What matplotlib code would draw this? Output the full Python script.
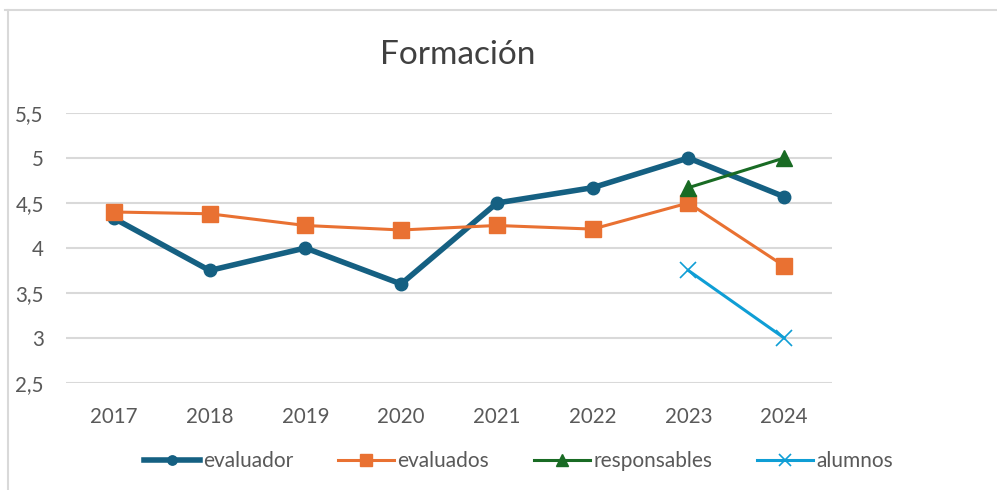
import matplotlib
matplotlib.use("Agg")
import matplotlib.pyplot as plt
from matplotlib.lines import Line2D

plt.rcParams["font.family"] = ["Lato", "DejaVu Sans"]

years = ["2017", "2018", "2019", "2020", "2021", "2022", "2023", "2024"]
evaluador = [4.33, 3.75, 4.0, 3.6, 4.5, 4.67, 5.0, 4.57]
evaluados = [4.4, 4.38, 4.25, 4.2, 4.25, 4.21, 4.5, 3.8]
responsables = [None, None, None, None, None, None, 4.67, 5.0]
alumnos = [None, None, None, None, None, None, 3.75, 3.0]
yticks = [2.5, 3, 3.5, 4, 4.5, 5, 5.5]
ytick_labels = ["2,5", "3", "3,5", "4", "4,5", "5", "5,5"]

fig = plt.figure(figsize=(9.97, 4.90), dpi=100)
ax = fig.add_axes([0.0662, 0.2184, 0.7683, 0.551])

x = list(range(len(years)))


def pts(vals):
    xs = [i for i, v in zip(x, vals) if v is not None]
    ys = [v for v in vals if v is not None]
    return xs, ys


ax.plot(*pts(evaluador), color="#156082", lw=4, marker="o", ms=9,
        label="evaluador", zorder=3)
ax.plot(*pts(evaluados), color="#E97132", lw=2.2, marker="s", ms=11.5,
        label="evaluados", zorder=4)
ax.plot(*pts(responsables), color="#196B24", lw=2.2, marker="^", ms=11.5,
        label="responsables", zorder=5)
ax.plot(*pts(alumnos), color="#0F9ED5", lw=2.2, marker="x", ms=11, mew=1.2,
        label="alumnos", zorder=5)

ax.set_xlim(-0.5, len(years) - 0.5)
ax.set_ylim(2.5, 5.5)
ax.set_xticks(x)
ax.set_xticklabels(years)
ax.set_yticks(yticks)
ax.set_yticklabels(ytick_labels)
ax.tick_params(axis="both", length=0, labelsize=14.8, colors="#595959")
ax.tick_params(axis="y", pad=16)
ax.tick_params(axis="x", pad=17)
ax.grid(axis="y", color="#D9D9D9", lw=1.5)
ax.set_axisbelow(True)
for s in ax.spines.values():
    s.set_visible(False)

fig.text(0.459, 0.888, "Formación", ha="center", va="center",
         fontsize=24, color="#404040")

fig.legend(loc="center", bbox_to_anchor=(0.52, 0.059), ncol=4, frameon=False,
           fontsize=15, handlelength=2.7, columnspacing=2.15, handletextpad=0.15,
           markerscale=0.75, labelcolor="#595959")

# chart area border (top and left visible in the crop)
fig.add_artist(Line2D([0.005, 1.0], [0.98, 0.98], color="#D9D9D9", lw=1.5,
                      transform=fig.transFigure))
fig.add_artist(Line2D([0.008, 0.008], [0.0, 0.98], color="#D9D9D9", lw=1.5,
                      transform=fig.transFigure))

fig.savefig("out.png", dpi=100, facecolor="white")
